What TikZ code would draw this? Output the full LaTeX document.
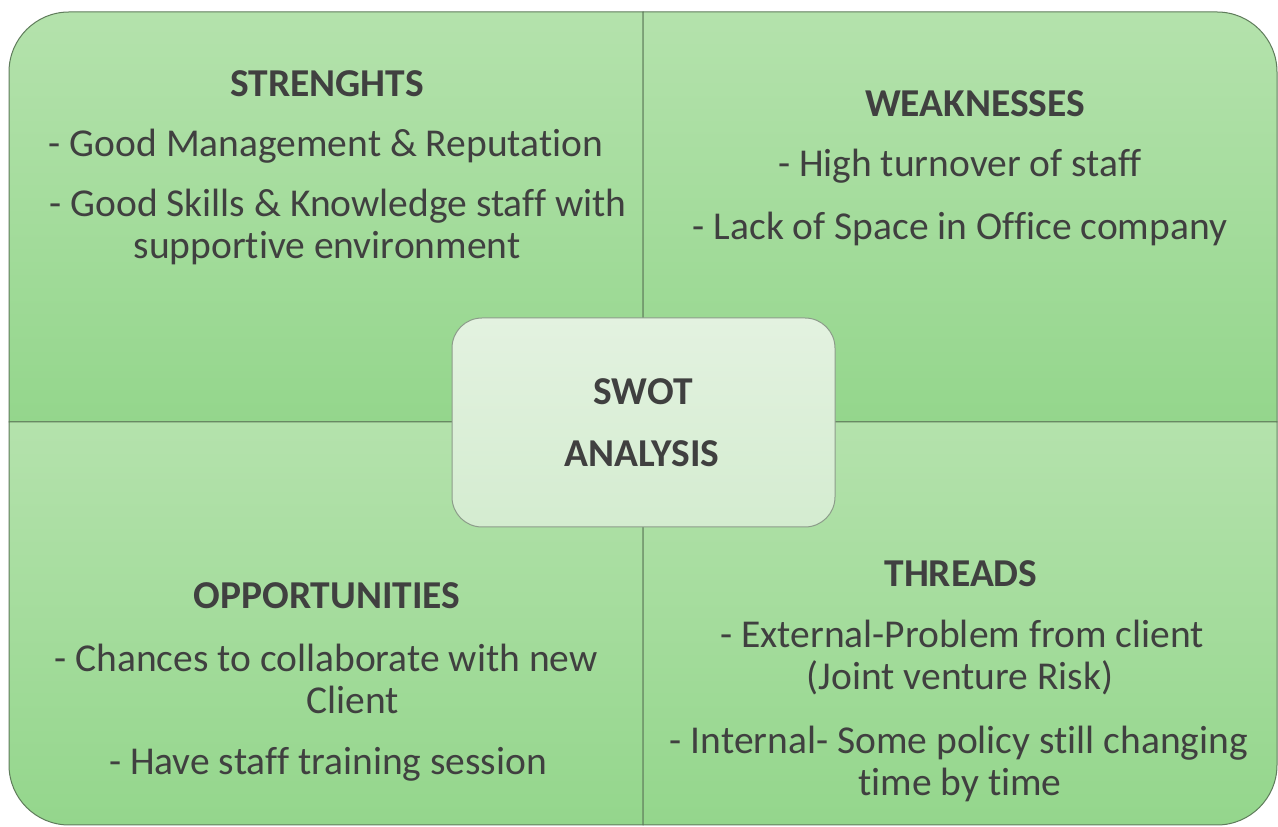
\documentclass[tikz,border=0pt]{standalone}
\usepackage{fontspec}
\setmainfont[Ligatures={NoCommon,NoContextual},Contextuals=NoAlternate,RawFeature={-liga;-clig;-calt;-dlig}]{Carlito}
\newcommand\tisep{\kern0pt{}}
\definecolor{quadtop}{HTML}{B4E2AC}
\definecolor{quadbot}{HTML}{94D68C}
\definecolor{quadline}{HTML}{5F7C5B}
\definecolor{boxtop}{HTML}{E3F2E0}
\definecolor{boxbot}{HTML}{D4ECD0}
\definecolor{boxline}{HTML}{8C9C8A}
\definecolor{ink}{HTML}{404040}
\begin{document}
\begin{tikzpicture}[x=1pt,y=1pt,
  quad/.style={top color=quadtop,bottom color=quadbot,draw=quadline,line width=1pt},
  txt/.style={anchor=base,text=ink,inner sep=0pt,font=\fontsize{39.5}{42}\selectfont},
  head/.style={txt,font=\fontsize{39.5}{42}\selectfont\bfseries}]
\useasboundingbox (0,0) rectangle (1278,827);
\fill[white] (0,0) rectangle (1278,827);
% four quadrants, each with its outer corner rounded
\path[quad] (9,405) -- (9,755) arc[start angle=180,end angle=90,radius=60] -- (643,815) -- (643,405) -- cycle;
\path[quad] (643,405) -- (643,815) -- (1217,815) arc[start angle=90,end angle=0,radius=60] -- (1277,405) -- cycle;
\path[quad] (9,405) -- (643,405) -- (643,2) -- (69,2) arc[start angle=270,end angle=180,radius=60] -- cycle;
\path[quad] (643,405) -- (1277,405) -- (1277,62) arc[start angle=0,end angle=-90,radius=60] -- (643,2) -- cycle;
% centre box
\shade[top color=boxtop,bottom color=boxbot,draw=boxline,line width=1pt,rounded corners=30]
  (452,300) rectangle (835,509);
\node[head] (swot) at (643,422) {SWOT};
\node[head] (analysis) at (642,360) {ANALYSIS};
% strengths
\node[head] (sh) at (327,730) {STRENGHTS};
\node[txt] (s1) at (326,670) {- Good Management \& Reputat\tisep ion};
\node[txt] (s2) at (338,610) {- Good Skills \& Knowledge staff with};
\node[txt] (s3) at (327,568) {support\tisep ive environment};
% weaknesses
\node[head] (wh) at (975,710) {WEAKNESSES};
\node[txt] (w1) at (960,650) {- High turnover of staff};
\node[txt] (w2) at (960,587) {- Lack of Space in Office company};
% opportunities
\node[head] (oh) at (327,218) {OPPORTUNITIES};
\node[txt] (o1) at (326,155) {- Chances to collaborate with new};
\node[txt] (o2) at (353,113) {Client};
\node[txt] (o3) at (328,52) {- Have staff training session};
% threads
\node[head] (th) at (961,240) {THREADS};
\node[txt] (t1) at (962,179) {- External-Problem from client};
\node[txt] (t2) at (960,137) {(Joint venture Risk)};
\node[txt] (t3) at (959,73) {- Internal- Some policy still changing};
\node[txt] (t4) at (960,31) {t\tisep ime by t\tisep ime};
\end{tikzpicture}
\end{document}
